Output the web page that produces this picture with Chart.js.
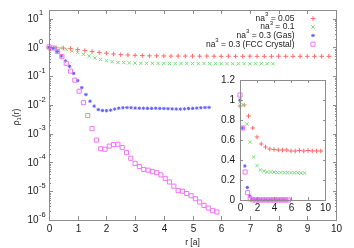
<!DOCTYPE html>
<html>
<head>
<meta charset="utf-8">
<script src="https://cdn.jsdelivr.net/npm/chart.js@4.4.0/dist/chart.umd.min.js"></script>
<style>
    html, body { margin: 0; padding: 0; background: #fff; }
    #wrap { position: relative; width: 354px; height: 248px; }
    #main-chart { position: absolute; left: 0; top: 0; }
    #inset-chart { position: absolute; left: 205px; top: 74px; }
</style>
</head>
<body>
<div id="wrap">
    <canvas id="main-chart" width="354" height="248"></canvas>
    <canvas id="inset-chart" width="135" height="145"></canvas>
</div>
<script>
/* -------- DATA START -------- */
// legend text: "na" + superscript "3" + suffix
const legendSuffixes = [" = 0.05", " = 0.1", " = 0.3 (Gas)", " = 0.3 (FCC Crystal)"];

// sampling step of r [a] for each series (grid spacing)
const rSteps = [0.25, 0.2, 0.143, 0.15];

// rho_1(r)
const rho005 = [0.94, 0.97, 0.95, 0.91, 0.84, 0.78, 0.72, 0.67, 0.63, 0.59,
    0.56, 0.545, 0.53, 0.52, 0.51, 0.51, 0.505, 0.50, 0.50, 0.50,
    0.50, 0.495, 0.50, 0.495, 0.49, 0.495, 0.49, 0.49, 0.495, 0.49,
    0.49, 0.49, 0.495, 0.49, 0.49, 0.49, 0.49, 0.49, 0.49, 0.49];
const rho01 = [0.98, 0.98, 0.95, 0.86, 0.76, 0.67, 0.58, 0.50, 0.43, 0.38,
    0.345, 0.32, 0.30, 0.295, 0.29, 0.285, 0.28, 0.28, 0.28, 0.278,
    0.28, 0.277, 0.275, 0.276, 0.275, 0.275, 0.274, 0.275, 0.273, 0.272,
    0.273, 0.272, 0.272, 0.271, 0.272, 0.271, 0.27, 0.271, 0.27, 0.27];
const rho03Gas = [1.0, 0.93, 0.72, 0.50, 0.34, 0.22, 0.125, 0.07, 0.04, 0.023,
    0.0135, 0.0091, 0.0069, 0.0064, 0.0063, 0.0066, 0.0072, 0.0077, 0.008, 0.0081,
    0.008, 0.0078, 0.0077, 0.0077, 0.0076, 0.0076, 0.0077, 0.0076, 0.0075, 0.0074,
    0.0073, 0.0072, 0.0072, 0.0073, 0.0075, 0.0076, 0.0078, 0.008, 0.0081, 0.0082];
const rho03Fcc = [1.05, 0.95, 0.72, 0.48, 0.28, 0.15, 0.073, 0.03, 0.012, 0.0043,
    0.0015, 0.0006, 0.0003, 0.00029, 0.00037, 0.00042, 0.00043, 0.00033, 0.00022, 0.00014,
    0.000093, 0.000072, 0.000057, 0.000054, 0.000048, 0.000044, 0.000037, 0.000028, 0.000021, 0.000015,
    0.0000105, 0.00001, 0.0000083, 0.000007, 0.0000055, 0.0000042, 0.0000032, 0.0000026, 0.0000021, 0.0000019];

// ticks
const mainXTicks = [0, 1, 2, 3, 4, 5, 6, 7, 8, 9, 10];
const mainYDecades = [-6, -5, -4, -3, -2, -1, 0, 1];
const insetXTicks = [0, 2, 4, 6, 8, 10];
const insetYTicks = [0, 0.2, 0.4, 0.6, 0.8, 1, 1.2];
const insetYTickLabels = ["0", "0.2", "0.4", "0.6", "0.8", "1", "1.2"];
/* -------- DATA END -------- */

/* -------- STYLE START -------- */
const FONT = "'Liberation Sans', Arial, sans-serif";
const FRAME_COLOR = "#8c8c8c";
const TEXT_COLOR = "#1a1a1a";
const seriesStyles = [
    { color: "rgb(255,105,105)", pointStyle: "cross", radius: 2.3, borderWidth: 1, fill: "rgba(0,0,0,0)" },
    { color: "rgb(120,222,120)", pointStyle: "crossRot", radius: 2.4, borderWidth: 1, fill: "rgba(0,0,0,0)" },
    { color: "rgb(95,95,255)", pointStyle: "star", radius: 1.7, borderWidth: 1, fill: "rgba(0,0,0,0)" },
    { color: "rgb(245,115,245)", pointStyle: "rect", radius: 2.9, borderWidth: 1, fill: "rgba(0,0,0,0)" },
];
/* -------- STYLE END -------- */

/* -------- FUNCTIONS START -------- */
function toPoints(values, step, every) {
    return values
        .map((v, i) => ({ x: i * step, y: v }))
        .filter((p, i) => i % every === 0);
}

function buildDatasets(every) {
    const all = [rho005, rho01, rho03Gas, rho03Fcc];
    return all.map((values, k) => ({
        data: toPoints(values, rSteps[k], every),
        pointStyle: seriesStyles[k].pointStyle,
        pointRadius: seriesStyles[k].radius,
        borderColor: seriesStyles[k].color,
        backgroundColor: seriesStyles[k].fill,
        borderWidth: seriesStyles[k].borderWidth,
        showLine: false,
        clip: false,
        order: 3 - k,
    }));
}

function line(ctx, x1, y1, x2, y2) {
    ctx.beginPath();
    ctx.moveTo(x1, y1);
    ctx.lineTo(x2, y2);
    ctx.stroke();
}

function drawMarker(ctx, style, x, y) {
    ctx.save();
    ctx.strokeStyle = style.color;
    ctx.fillStyle = style.fill;
    ctx.lineWidth = style.borderWidth;
    Chart.helpers.drawPoint(ctx, {
        pointStyle: style.pointStyle, rotation: 0,
        radius: style.radius, borderWidth: style.borderWidth,
    }, x, y);
    ctx.restore();
}

function yMinorValues() {
    const vals = [];
    mainYDecades.forEach(d => {
        for (let m = 1; m <= 9; m++) {
            const v = m * Math.pow(10, d);
            if (v <= 20) vals.push({ v: v, major: m === 1 });
        }
    });
    return vals;
}
/* -------- FUNCTIONS END -------- */

/* -------- PLUGINS START -------- */
const mainDecorations = {
    id: "mainDecorations",
    afterDraw(chart) {
        const { ctx, chartArea: a, scales } = chart;
        ctx.save();
        ctx.strokeStyle = FRAME_COLOR;
        ctx.lineWidth = 1;
        ctx.strokeRect(a.left + 0.5, a.top + 0.5, a.right - a.left, a.bottom - a.top);

        // x ticks (inward, mirrored) and labels
        ctx.fillStyle = TEXT_COLOR;
        ctx.font = "10px " + FONT;
        ctx.textAlign = "center";
        ctx.textBaseline = "middle";
        mainXTicks.forEach(v => {
            const px = Math.round(scales.x.getPixelForValue(v)) + 0.5;
            line(ctx, px, a.bottom, px, a.bottom - 4);
            line(ctx, px, a.top, px, a.top + 4);
            ctx.fillText(String(v), px, a.bottom + 9);
        });

        // y ticks, log major + minor
        yMinorValues().forEach(t => {
            const py = Math.round(scales.y.getPixelForValue(t.v)) + 0.5;
            const len = t.major ? 4 : 2;
            line(ctx, a.left, py, a.left + len, py);
            line(ctx, a.right + 1, py, a.right + 1 - len, py);
        });

        // y labels 10^n
        mainYDecades.forEach(d => {
            const py = scales.y.getPixelForValue(Math.pow(10, d));
            ctx.textAlign = "right";
            ctx.font = "10px " + FONT;
            ctx.fillText("10", 38.5, py + 0.5);
            ctx.textAlign = "left";
            ctx.font = "7.5px " + FONT;
            ctx.fillText(String(d), 39, py - 5.5);
        });

        // axis titles
        ctx.font = "8.5px " + FONT;
        ctx.textAlign = "center";
        ctx.fillText("r [a]", (a.left + a.right) / 2, 242.5);

        ctx.save();
        ctx.translate(17, 117);
        ctx.rotate(-Math.PI / 2);
        ctx.textAlign = "left";
        ctx.font = "8.5px " + FONT;
        const rhoW = ctx.measureText("ρ").width;
        ctx.font = "6px " + FONT;
        const subW = ctx.measureText("1").width;
        ctx.font = "8.5px " + FONT;
        const restW = ctx.measureText("(r)").width;
        let sx = -(rhoW + subW + restW) / 2;
        ctx.fillText("ρ", sx, 0);
        sx += rhoW;
        ctx.font = "6px " + FONT;
        ctx.fillText("1", sx, 2.5);
        sx += subW;
        ctx.font = "8.5px " + FONT;
        ctx.fillText("(r)", sx, 0);
        ctx.restore();

        // legend, text right aligned, marker on the right
        const rowsY = [18.5, 27, 35.5, 44.2];
        legendSuffixes.forEach((suffix, k) => {
            const cy = rowsY[k];
            ctx.font = "8.5px " + FONT;
            const sufW = ctx.measureText(suffix).width;
            ctx.font = "6px " + FONT;
            const supW = ctx.measureText("3").width;
            ctx.font = "8.5px " + FONT;
            const naW = ctx.measureText("na").width;
            const right = 294.5;
            ctx.textAlign = "left";
            ctx.fillText(suffix, right - sufW, cy);
            ctx.font = "6px " + FONT;
            ctx.fillText("3", right - sufW - supW, cy - 4);
            ctx.font = "8.5px " + FONT;
            ctx.fillText("na", right - sufW - supW - naW, cy);
            drawMarker(ctx, seriesStyles[k], 313, cy);
        });
        ctx.restore();
    }
};

const insetDecorations = {
    id: "insetDecorations",
    afterDraw(chart) {
        const { ctx, chartArea: a, scales } = chart;
        ctx.save();
        ctx.strokeStyle = FRAME_COLOR;
        ctx.lineWidth = 1;
        ctx.strokeRect(a.left + 0.5, a.top + 0.5, a.right - a.left, a.bottom - a.top);
        ctx.fillStyle = TEXT_COLOR;
        ctx.font = "10px " + FONT;
        ctx.textBaseline = "middle";

        ctx.textAlign = "center";
        insetXTicks.forEach(v => {
            const px = Math.round(scales.x.getPixelForValue(v)) + 0.5;
            line(ctx, px, a.bottom, px, a.bottom - 3);
            line(ctx, px, a.top, px, a.top + 3);
            ctx.fillText(String(v), px, a.bottom + 8.5);
        });

        ctx.textAlign = "right";
        insetYTicks.forEach((v, i) => {
            const py = Math.round(scales.y.getPixelForValue(v)) + 0.5;
            line(ctx, a.left, py, a.left + 3, py);
            line(ctx, a.right + 1, py, a.right - 2, py);
            ctx.fillText(insetYTickLabels[i], a.left - 5, py);
        });
        ctx.restore();
    }
};
/* -------- PLUGINS END -------- */

/* -------- PROGRAM START -------- */
const commonOptions = {
    responsive: false,
    animation: false,
    events: [],
    plugins: { legend: { display: false }, tooltip: { enabled: false } },
};

new Chart(document.getElementById("main-chart"), {
    type: "scatter",
    data: { datasets: buildDatasets(1) },
    options: {
        ...commonOptions,
        layout: { padding: { left: 49, top: 10, right: 18, bottom: 28 } },
        scales: {
            x: { type: "linear", min: 0, max: 10, display: false },
            y: { type: "logarithmic", min: 1e-6, max: 20, display: false },
        },
    },
    plugins: [mainDecorations],
});

new Chart(document.getElementById("inset-chart"), {
    type: "scatter",
    data: { datasets: buildDatasets(2) },
    options: {
        ...commonOptions,
        layout: { padding: { left: 35, top: 6, right: 15, bottom: 19 } },
        scales: {
            x: { type: "linear", min: 0, max: 10, display: false },
            y: { type: "linear", min: 0, max: 1.2, display: false },
        },
    },
    plugins: [insetDecorations],
});
/* -------- PROGRAM END -------- */
</script>
</body>
</html>
